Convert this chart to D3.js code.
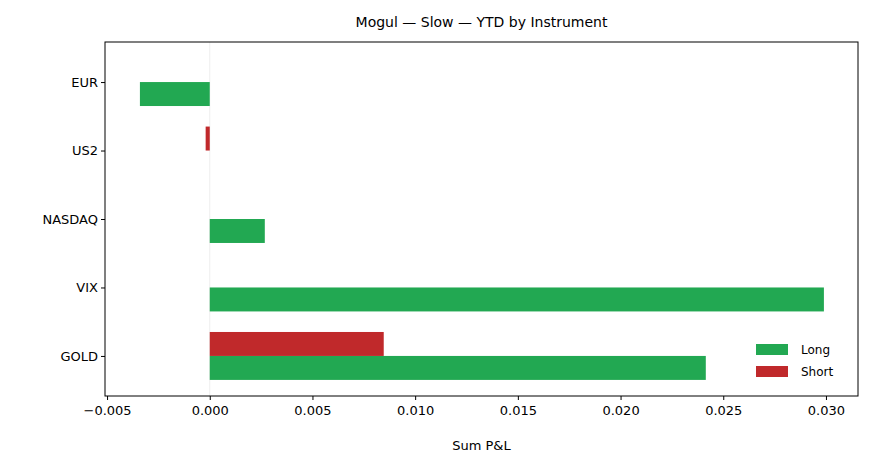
<!DOCTYPE html>
<html><head><meta charset="utf-8">
<script src="https://cdn.jsdelivr.net/npm/d3@7/dist/d3.min.js"></script>
<style>body{margin:0;background:#fff}text{font-family:"DejaVu Sans",sans-serif}</style>
</head><body><svg id="c" width="872" height="469"></svg>
<script>
const categories=["EUR","US2","NASDAQ","VIX","GOLD"];
const longVals=[-0.0034,0,0.00268,0.0299,0.02415];
const shortVals=[0,-0.0002,0,0,0.00847];
const xTicks=[-0.005,0,0.005,0.010,0.015,0.020,0.025,0.030];
const svg=d3.select("#c");
const L=105,R=858,T=42,B=396;
const x=d3.scaleLinear().domain([-0.0051,0.03156]).range([L,R]);
const y=d3.scaleLinear().domain([-0.585,4.585]).range([T,B]);
const h=0.35, green="#22a852", red="#c0292b";
svg.append("line").attr("x1",x(0)).attr("x2",x(0)).attr("y1",T).attr("y2",B).attr("stroke","#eee");
const g=svg.append("g");
categories.forEach((c,i)=>{
  const lv=longVals[i], sv=shortVals[i];
  g.append("rect").attr("x",x(Math.min(0,lv))).attr("width",Math.abs(x(lv)-x(0)))
    .attr("y",y(i)).attr("height",y(i+h)-y(i)).attr("fill",green);
  g.append("rect").attr("x",x(Math.min(0,sv))).attr("width",Math.abs(x(sv)-x(0)))
    .attr("y",y(i-h)).attr("height",y(i)-y(i-h)).attr("fill",red);
});
svg.append("rect").attr("x",L).attr("y",T).attr("width",R-L).attr("height",B-T).attr("fill","none").attr("stroke","#000").attr("stroke-width",1);
const xa=svg.append("g").attr("transform",`translate(0,${B})`)
  .call(d3.axisBottom(x).tickValues(xTicks).tickFormat(d3.format(".3f")).tickSizeOuter(0).tickSize(4));
xa.select(".domain").remove();
xa.selectAll("text").attr("font-size",13).attr("fill","#000").attr("dy","0.9em");
const ya=svg.append("g").attr("transform",`translate(${L},0)`)
  .call(d3.axisLeft(y).tickValues(categories.map((d,i)=>i)).tickFormat(i=>categories[i]).tickSizeOuter(0).tickSize(4));
ya.select(".domain").remove();
ya.selectAll("text").attr("font-size",13).attr("fill","#000");
svg.append("text").attr("x",(L+R)/2).attr("y",27).attr("text-anchor","middle").attr("font-size",14).text("Mogul — Slow — YTD by Instrument");
svg.append("text").attr("x",(L+R)/2).attr("y",450).attr("text-anchor","middle").attr("font-size",13).text("Sum P&L");
const leg=[["Long",green],["Short",red]];
leg.forEach((d,i)=>{
  svg.append("rect").attr("x",756).attr("y",344+i*22).attr("width",32).attr("height",11).attr("fill",d[1]);
  svg.append("text").attr("x",801).attr("y",354+i*22).attr("font-size",12).text(d[0]);
});
</script></body></html>
